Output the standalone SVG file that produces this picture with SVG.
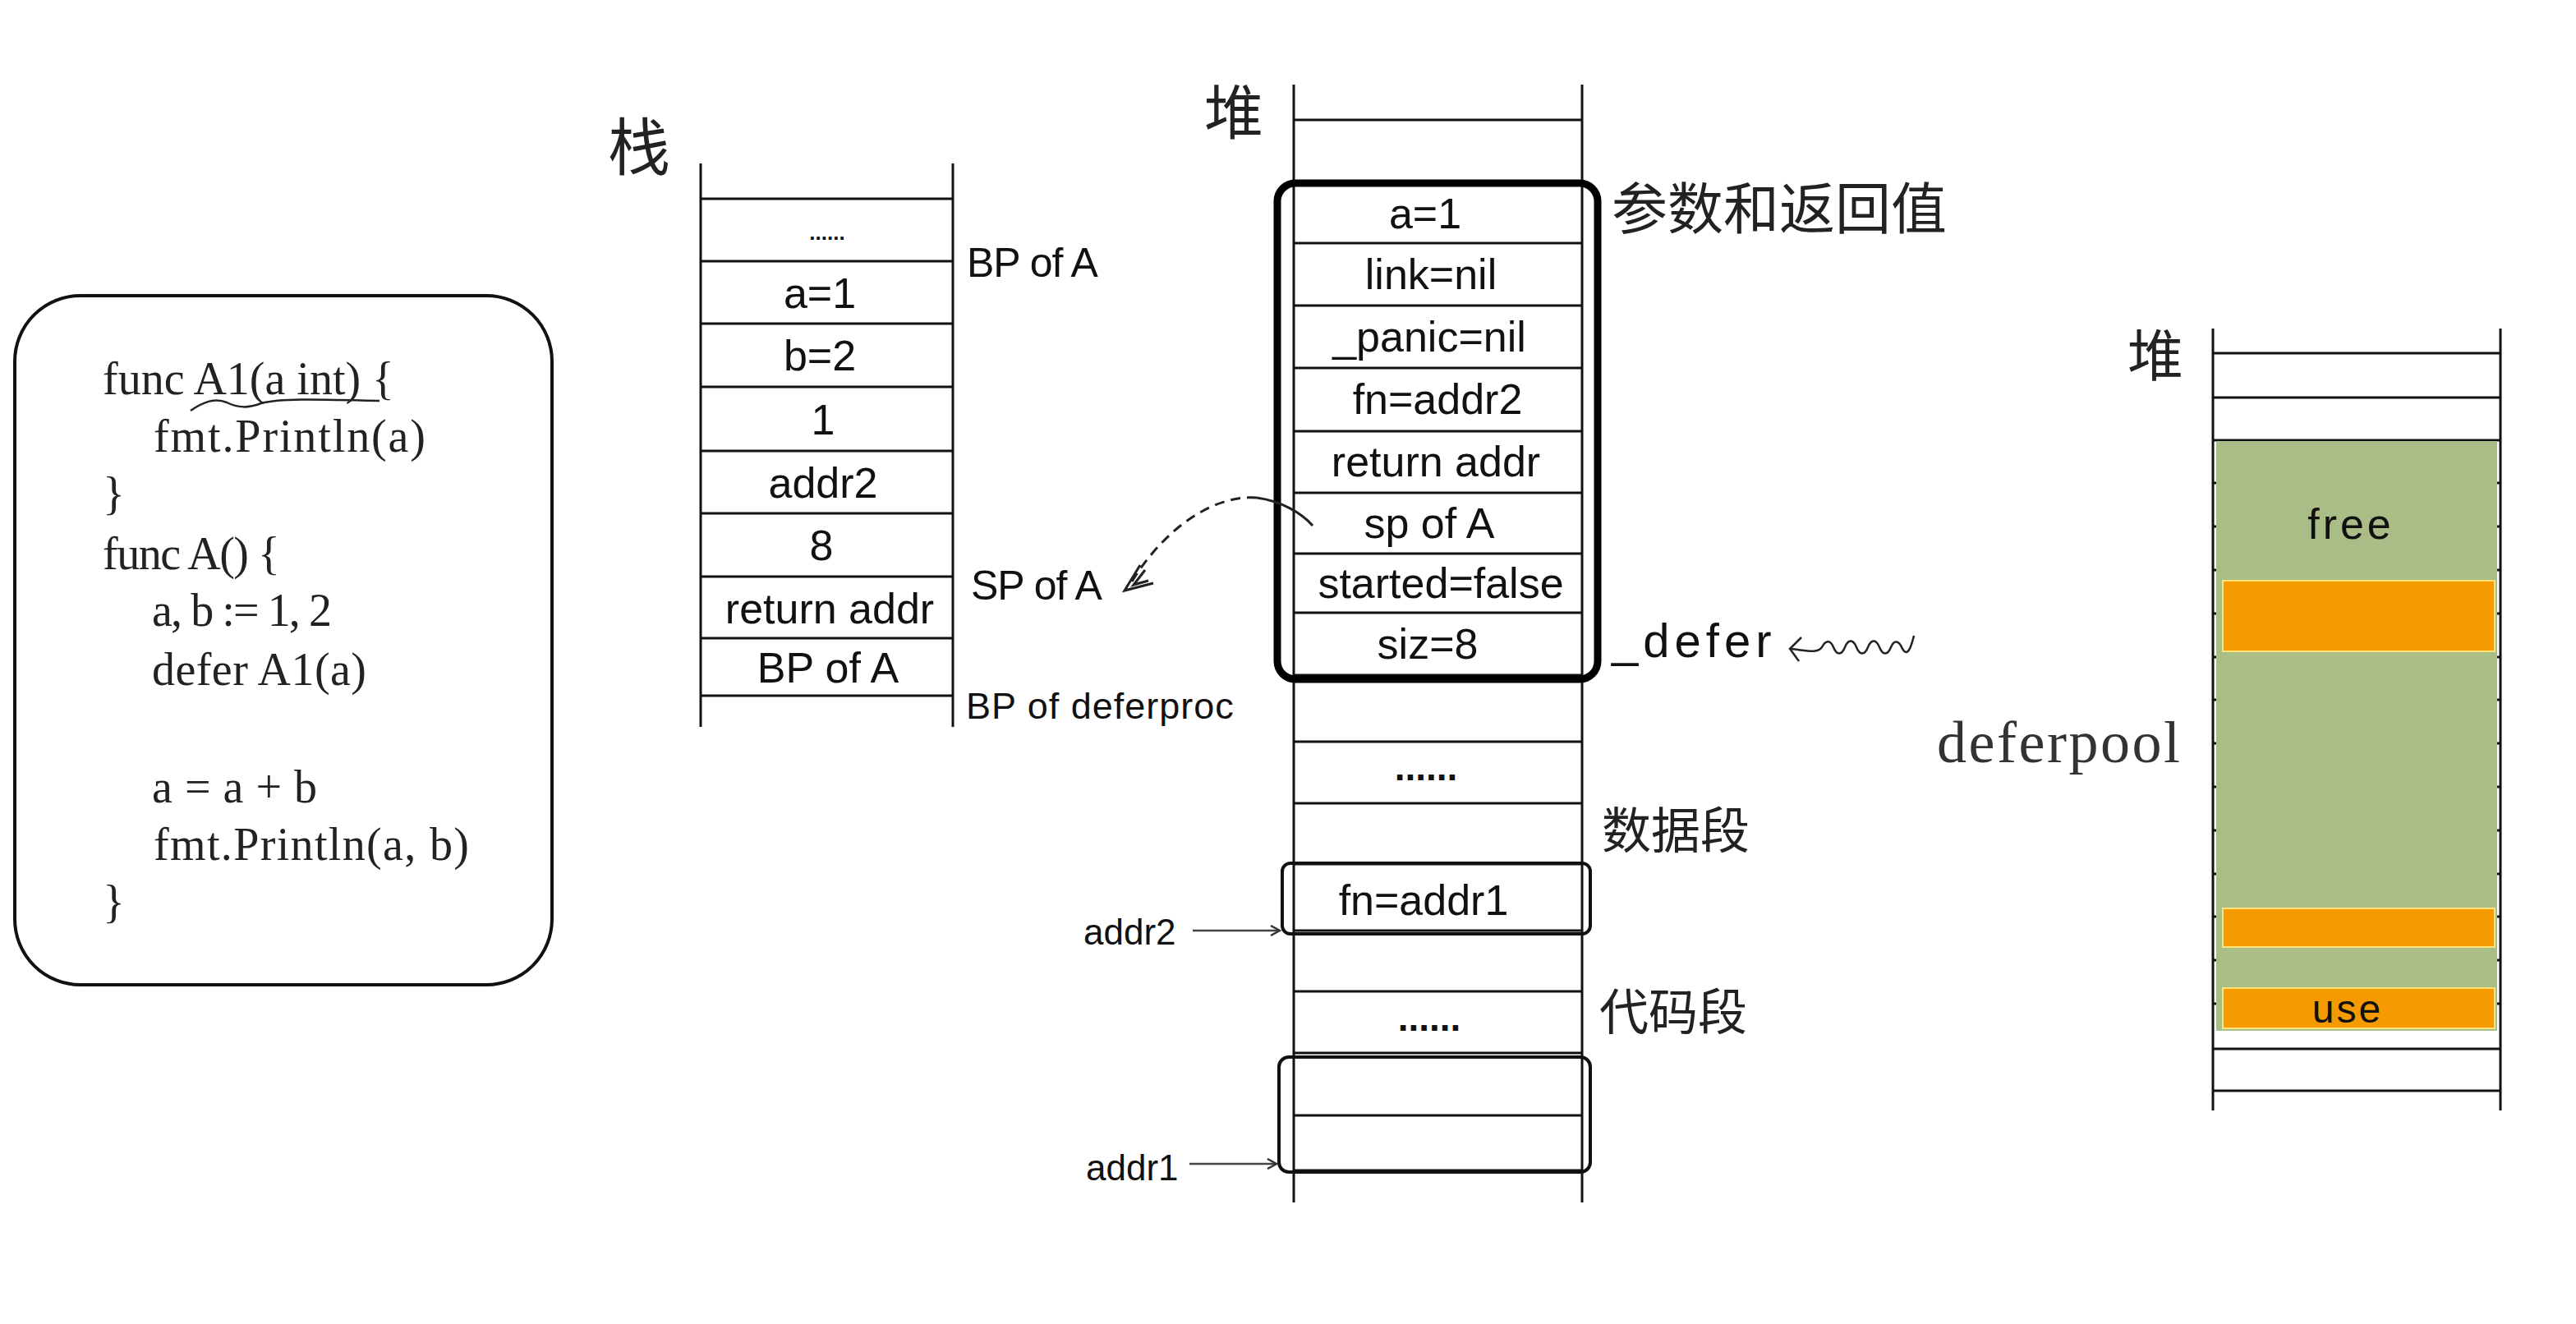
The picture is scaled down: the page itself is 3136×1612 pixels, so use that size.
<svg xmlns="http://www.w3.org/2000/svg" width="3136" height="1612" viewBox="0 0 3136 1612">
<style>
.ln{stroke:#111;stroke-width:3;fill:none}
.code{font-family:"Liberation Serif",serif;font-size:56px;fill:#222}
.h{font-family:"Liberation Sans",sans-serif;font-size:52px;fill:#111;text-anchor:middle}
.lbl{font-family:"Liberation Sans",sans-serif;font-size:50px;fill:#111}
.cjk{font-family:"Noto Sans CJK SC",sans-serif;fill:#222}
.dots{font-family:"Liberation Sans",sans-serif;font-weight:bold;fill:#111;text-anchor:middle}
</style>
<defs>
<marker id="open" markerWidth="14" markerHeight="14" refX="12" refY="7" orient="auto" markerUnits="userSpaceOnUse">
<path d="M1,1 L12,7 L1,13" fill="none" stroke="#333" stroke-width="2.5"/>
</marker>
</defs>
<rect width="3136" height="1612" fill="#fff"/>

<g id="code">
<rect x="18" y="360" width="654" height="839" rx="80" ry="80" fill="none" stroke="#111" stroke-width="4"/>
<text class="code" x="125" y="480" textLength="355">func A1(a int) {</text>
<path d="M232,500 C248,489 262,484 276,490 C290,497 302,497 318,491 C340,485 380,486 462,488" fill="none" stroke="#222" stroke-width="2.5"/>
<text class="code" x="187" y="550" textLength="331">fmt.Println(a)</text>
<text class="code" x="125" y="620">}</text>
<text class="code" x="125" y="693" textLength="216">func A() {</text>
<text class="code" x="185" y="762" textLength="219">a, b := 1, 2</text>
<text class="code" x="185" y="834" textLength="261">defer A1(a)</text>
<text class="code" x="185" y="977" textLength="201">a = a + b</text>
<text class="code" x="187" y="1047" textLength="384">fmt.Println(a, b)</text>
<text class="code" x="125" y="1117">}</text>
</g>

<g id="stack">
<text class="cjk" x="740" y="207" font-size="76">栈</text>
<path class="ln" d="M853,199 V885 M1160,199 V885"/>
<path class="ln" d="M853,242 H1160 M853,318 H1160 M853,394 H1160 M853,471 H1160 M853,549 H1160 M853,625 H1160 M853,702 H1160 M853,777 H1160 M853,847 H1160"/>
<text class="dots" x="1007" y="292" font-size="26">......</text>
<text class="h" x="998" y="375">a=1</text>
<text class="h" x="998" y="451">b=2</text>
<text class="h" x="1002" y="529">1</text>
<text class="h" x="1002" y="606">addr2</text>
<text class="h" x="1000" y="682">8</text>
<text class="h" x="1010" y="759">return addr</text>
<text class="h" x="1008" y="831">BP of A</text>
<text class="lbl" x="1177" y="337" letter-spacing="-1">BP of A</text>
<text class="lbl" x="1182" y="730" letter-spacing="-1">SP of A</text>
<text class="lbl" x="1176" y="875" style="font-size:45px" letter-spacing="1">BP of deferproc</text>
</g>

<g id="heap1">
<text class="cjk" x="1466" y="163" font-size="72">堆</text>
<path class="ln" d="M1575,103 V1464 M1926,103 V1464"/>
<path class="ln" d="M1575,146 H1926 M1575,222 H1926 M1575,296 H1926 M1575,372 H1926 M1575,448 H1926 M1575,525 H1926 M1575,600 H1926 M1575,674 H1926 M1575,746 H1926 M1575,822 H1926 M1575,903 H1926 M1575,978 H1926 M1575,1052 H1926 M1575,1133 H1926 M1575,1207 H1926 M1575,1282 H1926 M1575,1358 H1926 M1575,1425 H1926"/>
<text class="h" x="1735" y="278">a=1</text>
<text class="h" x="1742" y="352">link=nil</text>
<text class="h" x="1740" y="428">_panic=nil</text>
<text class="h" x="1750" y="504">fn=addr2</text>
<text class="h" x="1748" y="580">return addr</text>
<text class="h" x="1740" y="655">sp of A</text>
<text class="h" x="1754" y="728">started=false</text>
<text class="h" x="1738" y="802">siz=8</text>
<rect x="1555" y="223" width="390" height="604" rx="22" ry="22" fill="none" stroke="#000" stroke-width="9"/>
<text class="dots" x="1736" y="950" font-size="46">......</text>
<text class="h" x="1733" y="1114">fn=addr1</text>
<text class="dots" x="1740" y="1255" font-size="46">......</text>
<rect x="1561" y="1051" width="375" height="86" rx="10" ry="10" fill="none" stroke="#111" stroke-width="4"/>
<rect x="1557" y="1287" width="379" height="140" rx="12" ry="12" fill="none" stroke="#111" stroke-width="4"/>
<text class="cjk" x="1962" y="279" font-size="68">参数和返回值</text>
<text class="lbl" x="1962" y="800" style="font-size:58px" letter-spacing="6">_defer</text>
<text class="cjk" x="1950" y="1033" font-size="60">数据段</text>
<text class="cjk" x="1947" y="1254" font-size="60">代码段</text>
<text class="lbl" x="1319" y="1150" style="font-size:44px">addr2</text>
<text class="lbl" x="1322" y="1437" style="font-size:44px">addr1</text>
</g>

<g id="heap2">
<text class="cjk" x="2590" y="458" font-size="68">堆</text>
<path class="ln" d="M2694,430 H3044 M2694,484 H3044 M2694,536 H3044 M2694,588 H3044 M2694,641 H3044 M2694,694 H3044 M2694,747 H3044 M2694,800 H3044 M2694,852 H3044 M2694,905 H3044 M2694,958 H3044 M2694,1011 H3044 M2694,1064 H3044 M2694,1116 H3044 M2694,1169 H3044 M2694,1222 H3044 M2694,1277 H3044 M2694,1328 H3044"/>
<rect x="2698" y="537" width="342" height="718" fill="#AABD86"/>
<rect x="2706" y="707" width="331" height="86" fill="#F59A00" stroke="#FFE27A" stroke-width="2"/>
<rect x="2706" y="1106" width="331" height="47" fill="#F59A00" stroke="#FFE27A" stroke-width="2"/>
<rect x="2706" y="1203" width="331" height="49" fill="#F59A00" stroke="#FFE27A" stroke-width="2"/>
<path class="ln" d="M2694,400 V1352 M3044,400 V1352"/>
<text class="h" x="2862" y="656" letter-spacing="4">free</text>
<text class="h" x="2858" y="1245" style="font-size:48px" letter-spacing="3">use</text>
<text x="2358" y="928" font-family="Liberation Serif,serif" font-size="72" fill="#333" textLength="296">deferpool</text>
</g>

<g id="connectors" fill="none">
<path d="M1598,640 C1585,625 1560,610 1530,606" stroke="#222" stroke-width="3"/>
<path d="M1530,606 C1480,602 1420,640 1378,708" stroke="#222" stroke-width="3" stroke-dasharray="12,8"/>
<path d="M1388,688 L1369,719 L1404,710 M1394,694 L1380,712 L1398,707" stroke="#222" stroke-width="3"/>
<path d="M1452,1133 H1558" stroke="#444" stroke-width="2.5" marker-end="url(#open)"/>
<path d="M1448,1417 H1554" stroke="#444" stroke-width="2.5" marker-end="url(#open)"/>
<path d="M2330,774 C2326,790 2322,800 2316,790 C2312,780 2306,778 2302,788 C2298,798 2292,798 2288,788 C2284,778 2278,778 2274,788 C2270,798 2264,798 2260,788 C2256,778 2250,778 2246,788 C2242,798 2236,798 2232,788 C2228,778 2222,780 2218,788 C2212,796 2200,792 2180,790" stroke="#222" stroke-width="2.5"/>
<path d="M2193,776 L2179,790 L2190,805" stroke="#222" stroke-width="2.5"/>
</g>
</svg>
